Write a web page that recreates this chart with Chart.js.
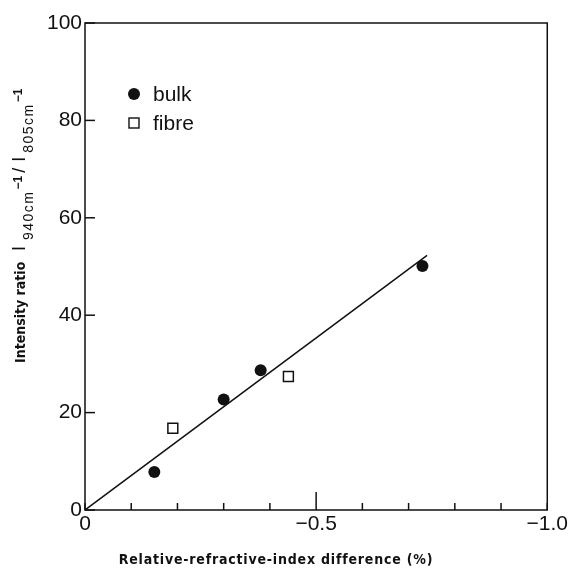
<!DOCTYPE html>
<html><head><meta charset="utf-8">
<script src="https://cdn.jsdelivr.net/npm/chart.js@4/dist/chart.umd.min.js"></script>
<style>html,body{margin:0;padding:0;background:#fff}canvas{display:block}</style>
</head><body>
<canvas id="c" width="570" height="570"></canvas>
<script>
// ---- data ----
const bulkX = [-0.15, -0.30, -0.38, -0.73];
const bulkY = [7.8, 22.7, 28.7, 50.1];
const fibreX = [-0.19, -0.44];
const fibreY = [16.8, 27.4];
const fitX = [0, -0.74];
const fitY = [0, 52.3];
const xTickValues = [0, -0.5, -1];
const xTickLabels = ["0", "\u22120.5", "\u22121.0"];
const yTickLabels = ["0", "20", "40", "60", "80", "100"];
const seriesNames = ["bulk", "fibre"];
const xTitle = "Relative-refractive-index difference (%)";
const yTitleA = "Intensity ratio";

const toPts = (xs, ys) => xs.map((x, i) => ({x: x, y: ys[i]}));

const frameTicks = {
  id: 'frameTicks',
  afterDraw(chart) {
    const ctx = chart.ctx, a = chart.chartArea;
    const xs = chart.scales.x, ys = chart.scales.y;
    ctx.save();
    ctx.strokeStyle = '#111';
    ctx.lineWidth = 1.5;
    ctx.strokeRect(a.left, a.top, a.right - a.left, a.bottom - a.top);
    // inward ticks on x axis
    xs.ticks.forEach(t => {
      const v = t.value;
      const px = xs.getPixelForValue(v);
      const major = Math.abs(v + 0.5) < 1e-6;
      ctx.beginPath();
      ctx.moveTo(px, a.bottom);
      ctx.lineTo(px, a.bottom - (major ? 18 : 7));
      ctx.stroke();
    });
    ys.ticks.forEach(t => {
      const py = ys.getPixelForValue(t.value);
      ctx.beginPath();
      ctx.moveTo(a.left, py);
      ctx.lineTo(a.left + 10, py);
      ctx.stroke();
    });
    // legend
    const ds = chart.data.datasets;
    ctx.fillStyle = '#111';
    ctx.font = '21px "Liberation Sans", Arial, sans-serif';
    ctx.textBaseline = 'middle';
    ctx.textAlign = 'left';
    const lx = 134, ly = [94, 123];
    ctx.beginPath(); ctx.arc(lx, ly[0], 6, 0, Math.PI * 2); ctx.fill();
    ctx.fillText(ds[0].label, 153, ly[0] + 1);
    ctx.lineWidth = 1.4;
    ctx.strokeRect(lx - 5, ly[1] - 5, 10, 10);
    ctx.fillText(ds[1].label, 153, ly[1] + 1);
    // x title
    ctx.font = 'bold 14px "DejaVu Sans Condensed", "DejaVu Sans", sans-serif';
    ctx.letterSpacing = '0.8px';
    ctx.textBaseline = 'alphabetic';
    ctx.textAlign = 'left';
    const xw = ctx.measureText(xTitle).width;
    ctx.fillText(xTitle, 276 - xw / 2, 564);
    // y title (rotated)
    ctx.translate(25, 363);
    ctx.rotate(-Math.PI / 2);
    ctx.letterSpacing = '0px';
    ctx.fillText(yTitleA, 0, 0);
    let u = 112;
    const main = '18px "Liberation Sans", Arial, sans-serif';
    const sub = '14px "Liberation Sans", Arial, sans-serif';
    const sup = 'bold 12px "Liberation Sans", Arial, sans-serif';
    const piece = (txt, font, dy, gap, ls) => {
      ctx.font = font;
      ctx.letterSpacing = (ls || 0) + 'px';
      ctx.fillText(txt, u, dy);
      u += ctx.measureText(txt).width + (gap || 0);
    };
    piece('I', main, 0, 6);
    piece('940cm', sub, 8, 1, 1.5);
    piece('\u22121', sup, -3, 3);
    piece('/', main, 0, 6);
    piece('I', main, 0, 4);
    piece('805cm', sub, 8, 1, 1.5);
    piece('\u22121', sup, -3, 0);
    ctx.restore();
  }
};

new Chart(document.getElementById('c'), {
  type: 'scatter',
  data: {
    datasets: [
      { label: seriesNames[0], data: toPts(bulkX, bulkY), pointStyle: 'circle', pointRadius: 6,
        backgroundColor: '#111', borderColor: '#111', borderWidth: 0 },
      { label: seriesNames[1], data: toPts(fibreX, fibreY), pointStyle: 'rect', pointRadius: 7,
        backgroundColor: '#fff', borderColor: '#111', borderWidth: 1.5 },
      { label: 'fit', type: 'line', data: toPts(fitX, fitY), showLine: true, pointRadius: 0,
        borderColor: '#111', borderWidth: 1.5, fill: false, order: 5 }
    ]
  },
  options: {
    responsive: false, animation: false, devicePixelRatio: 1,
    layout: { padding: { left: 0, right: 17, top: 23, bottom: 0 } },
    plugins: { legend: { display: false }, tooltip: { enabled: false } },
    scales: {
      x: {
        type: 'linear', min: -1, max: 0, reverse: true,
        grid: { display: false, drawTicks: false }, border: { display: false },
        ticks: {
          stepSize: 0.1, autoSkip: false, maxRotation: 0, padding: 2, color: '#111',
          font: { family: '"Liberation Sans", Arial, sans-serif', size: 21 },
          callback: (v) => {
            const i = xTickValues.findIndex(t => Math.abs(t - v) < 1e-6);
            return i >= 0 ? xTickLabels[i] : '';
          }
        },
        afterFit: (s) => { s.height = 60; }
      },
      y: {
        type: 'linear', min: 0, max: 100,
        grid: { display: false, drawTicks: false }, border: { display: false },
        ticks: {
          stepSize: 20, padding: 3, color: '#111',
          font: { family: '"Liberation Sans", Arial, sans-serif', size: 21 },
          callback: (v) => yTickLabels[Math.round(v / 20)] ?? ''
        },
        afterFit: (s) => { s.width = 85; }
      }
    }
  },
  plugins: [frameTicks]
});
</script>
</body></html>
